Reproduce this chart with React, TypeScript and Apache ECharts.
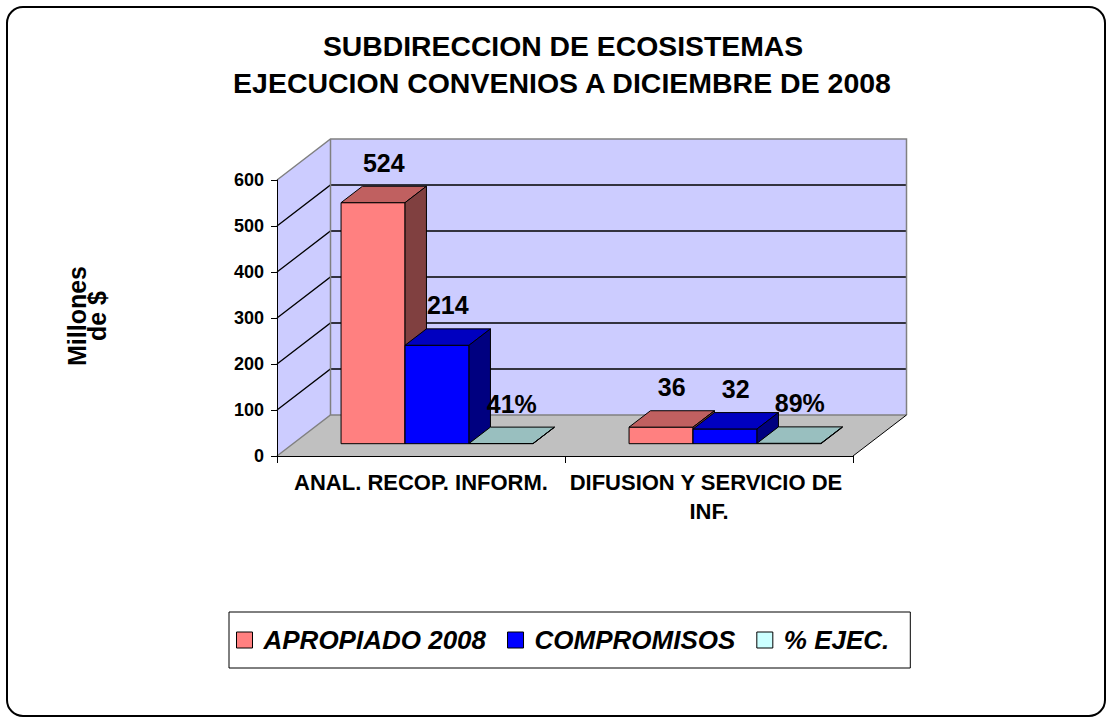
import React, { useEffect, useRef } from 'react';
import * as echarts from 'echarts';

const categories = ['ANAL. RECOP. INFORM.', 'DIFUSION Y SERVICIO DE INF.'];
const apropiado = [524, 36];
const compromisos = [214, 32];
const ejecucion = [0.41, 0.89];
const yTicks = [0, 100, 200, 300, 400, 500, 600];
const seriesNames = ['APROPIADO 2008', 'COMPROMISOS', '% EJEC.'];
const titleLines = ['SUBDIRECCION DE ECOSISTEMAS', 'EJECUCION CONVENIOS A DICIEMBRE DE 2008'];
const yAxisTitle = 'Millones\nde $';

const FONT = 'Liberation Sans, Arial, Helvetica, sans-serif';
const DX = 53.5;
const DY = 41;
const GAP = 1.5;
const FRONT = 0.3;
const BACK = 0.7;

const faces = [
  { front: '#FF8080', top: '#C06060', side: '#804040', legend: '#FF8080' },
  { front: '#0000FF', top: '#0000C0', side: '#000080', legend: '#0000FF' },
  { front: '#CCFFFF', top: '#99BFBF', side: '#668080', legend: '#CCFFFF' },
];

function makeBarRender(si: number, fmt: (v: number) => string) {
  return (params: any, api: any) => {
    const ci = api.value(0);
    const v = api.value(1);
    const base = api.coord([ci, 0]);
    const topP = api.coord([ci, v]);
    const band = api.size([1, 0])[0];
    const bw = band / (3 + GAP);
    const fdx = DX * FRONT;
    const fdy = DY * FRONT;
    const bdx = DX * (BACK - FRONT);
    const bdy = DY * (BACK - FRONT);
    const x0 = base[0] - 1.5 * bw + si * bw + fdx;
    const x1 = x0 + bw;
    const yb = base[1] - fdy;
    const yt = topP[1] - fdy;
    const f = faces[si];
    const stroke = { stroke: '#000', lineWidth: 1 };
    return {
      type: 'group',
      children: [
        {
          type: 'rect',
          shape: { x: x0, y: yt, width: bw, height: Math.max(yb - yt, 0) },
          style: { fill: f.front, ...stroke },
        },
        {
          type: 'polygon',
          shape: { points: [[x0, yt], [x1, yt], [x1 + bdx, yt - bdy], [x0 + bdx, yt - bdy]] },
          style: { fill: f.top, ...stroke },
        },
        {
          type: 'polygon',
          shape: { points: [[x1, yt], [x1, yb], [x1 + bdx, yb - bdy], [x1 + bdx, yt - bdy]] },
          style: { fill: f.side, ...stroke },
        },
        {
          type: 'text',
          x: (x0 + x1) / 2 + bdx / 2,
          y: yt - 40,
          style: {
            text: fmt(v),
            fill: '#000',
            fontSize: 25,
            fontWeight: 'bold',
            fontFamily: FONT,
            align: 'center',
            verticalAlign: 'middle',
          },
        },
      ],
    };
  };
}

function renderWalls(params: any, api: any) {
  const band = api.size([1, 0])[0];
  const c0 = api.coord([0, yTicks[0]]);
  const left = c0[0] - band / 2;
  const right = left + band * categories.length;
  const yBottom = c0[1];
  const yTop = api.coord([0, yTicks[yTicks.length - 1]])[1];
  const children: any[] = [
    {
      type: 'polygon',
      shape: { points: [[left, yBottom], [left + DX, yBottom - DY], [left + DX, yTop - DY], [left, yTop]] },
      style: { fill: '#CCCCFF' },
    },
    {
      type: 'rect',
      shape: { x: left + DX, y: yTop - DY, width: right - left, height: yBottom - yTop },
      style: { fill: '#CCCCFF' },
    },
    {
      type: 'polygon',
      shape: { points: [[left, yBottom], [right, yBottom], [right + DX, yBottom - DY], [left + DX, yBottom - DY]] },
      style: { fill: '#C0C0C0' },
    },
  ];
  yTicks.slice(1, -1).forEach((t) => {
    const y = api.coord([0, t])[1];
    children.push({
      type: 'polyline',
      shape: { points: [[left, y], [left + DX, y - DY], [right + DX, y - DY]] },
      style: { stroke: '#000', lineWidth: 1.3, fill: 'none' },
    });
  });
  children.push(
    {
      type: 'polyline',
      shape: { points: [[left, yTop], [left + DX, yTop - DY], [right + DX, yTop - DY], [right + DX, yBottom - DY]] },
      style: { stroke: '#808080', lineWidth: 1.5, fill: 'none' },
    },
    {
      type: 'polyline',
      shape: { points: [[left, yBottom], [left + DX, yBottom - DY], [right + DX, yBottom - DY]] },
      style: { stroke: '#808080', lineWidth: 1.5, fill: 'none' },
    },
    {
      type: 'line',
      shape: { x1: left + DX, y1: yTop - DY, x2: left + DX, y2: yBottom - DY },
      style: { stroke: '#808080', lineWidth: 1.5 },
    },
    {
      type: 'line',
      shape: { x1: right, y1: yBottom, x2: right + DX, y2: yBottom - DY },
      style: { stroke: '#000', lineWidth: 1 },
    }
  );
  return { type: 'group', children };
}

const fmtNum = (v: number) => String(v);
const fmtPct = (v: number) => Math.round(v * 100) + '%';

export default function App() {
  const ref = useRef<HTMLDivElement>(null);
  useEffect(() => {
    if (!ref.current) return;
    const chart = echarts.init(ref.current, undefined, { renderer: 'svg' });
    const mk = (arr: number[]) => arr.map((v, i) => [i, v]);
    const titleStyle = {
      fontSize: 27,
      fontWeight: 'bold',
      fontFamily: FONT,
      fill: '#000',
      align: 'center',
      verticalAlign: 'middle',
    };
    const option: any = {
      animation: false,
      backgroundColor: '#fff',
      grid: { left: 277, top: 180, width: 576, height: 276, containLabel: false },
      xAxis: {
        type: 'category',
        data: categories,
        boundaryGap: true,
        z: 10,
        axisLine: { show: true, lineStyle: { color: '#000', width: 1 } },
        axisTick: { show: true, length: 7, interval: 0, lineStyle: { color: '#000' } },
        axisLabel: {
          interval: 0,
          margin: 12,
          color: '#000',
          fontSize: 22,
          fontWeight: 'bold',
          fontFamily: FONT,
          lineHeight: 29,
          width: 288,
          overflow: 'break',
        },
        splitLine: { show: false },
      },
      yAxis: {
        type: 'value',
        min: yTicks[0],
        max: yTicks[yTicks.length - 1],
        interval: 100,
        z: 10,
        axisLine: { show: true, lineStyle: { color: '#000', width: 1 } },
        axisTick: { show: true, length: 6, lineStyle: { color: '#000' } },
        axisLabel: { margin: 13, color: '#000', fontSize: 18, fontWeight: 'bold', fontFamily: FONT },
        splitLine: { show: false },
      },
      legend: {
        left: 229,
        top: 612,
        selectedMode: false,
        data: seriesNames.map((n, i) => ({
          name: n,
          icon: 'rect',
          itemStyle: { color: faces[i].legend, borderColor: '#000', borderWidth: 1 },
        })),
        itemWidth: 16,
        itemHeight: 16,
        itemGap: 21,
        padding: [15, 21, 15, 7],
        borderColor: '#000',
        borderWidth: 1,
        textStyle: {
          fontSize: 26,
          fontWeight: 'bold',
          fontStyle: 'italic',
          fontFamily: FONT,
          color: '#000',
          padding: [0, 0, 0, 6],
        },
      },
      graphic: [
        {
          type: 'rect',
          shape: { x: 7, y: 7, width: 1098, height: 709, r: 16 },
          style: { fill: 'none', stroke: '#000', lineWidth: 2 },
          z: 100,
        },
        {
          type: 'text',
          x: 563,
          y: 47,
          scaleX: 1.05,
          style: { text: titleLines[0], ...titleStyle },
        },
        {
          type: 'text',
          x: 562,
          y: 84,
          scaleX: 1.055,
          style: { text: titleLines[1], ...titleStyle },
        },
        {
          type: 'text',
          x: 87,
          y: 316,
          rotation: Math.PI / 2,
          style: {
            text: yAxisTitle,
            fontSize: 25,
            fontWeight: 'bold',
            fontFamily: FONT,
            fill: '#000',
            align: 'center',
            verticalAlign: 'middle',
            lineHeight: 20,
          },
        },
      ],
      series: [
        {
          type: 'custom',
          name: 'walls',
          z: 1,
          silent: true,
          renderItem: renderWalls,
          data: [[0, 0]],
        },
        {
          type: 'custom',
          name: seriesNames[0],
          z: 3,
          itemStyle: { color: faces[0].legend },
          renderItem: makeBarRender(0, fmtNum),
          data: mk(apropiado),
        },
        {
          type: 'custom',
          name: seriesNames[1],
          z: 3,
          itemStyle: { color: faces[1].legend },
          renderItem: makeBarRender(1, fmtNum),
          data: mk(compromisos),
        },
        {
          type: 'custom',
          name: seriesNames[2],
          z: 3,
          itemStyle: { color: faces[2].legend },
          renderItem: makeBarRender(2, fmtPct),
          data: mk(ejecucion),
        },
      ],
    };
    chart.setOption(option);
    return () => chart.dispose();
  }, []);
  return (
    <div
      ref={ref}
      style={{ position: 'absolute', left: 0, top: 0, width: 1111, height: 719 }}
    />
  );
}
